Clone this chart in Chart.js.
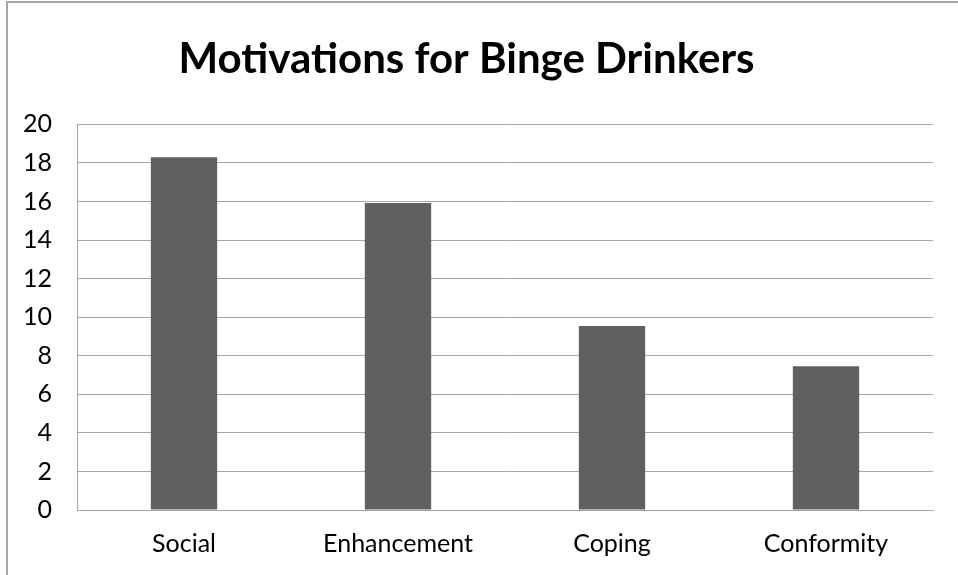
<!DOCTYPE html>
<html lang="en">

<head>
  <meta charset="UTF-8" />
  <title>Motivations for Binge Drinkers</title>
  <script src="https://cdn.jsdelivr.net/npm/chart.js"></script>
  <style>
    html, body {
      margin: 0;
      padding: 0;
      background: #fff;
    }

    .frame {
      position: absolute;
      left: 6px;
      top: 1px;
      width: 1000px;
      height: 600px;
      border-left: 2px solid #a6a6a6;
      border-top: 2px solid #a6a6a6;
    }

    .wrap {
      position: absolute;
      left: 0;
      top: 0;
      width: 958px;
      height: 575px;
    }
  </style>
</head>

<body>
  <div class="frame"></div>
  <div class="wrap"><canvas id="motivChart"></canvas></div>

  <script>
    // Motives and mean scores
    const motives = ["Social", "Enhancement", "Coping", "Conformity"];
    const scores = [18.3, 15.92, 9.55, 7.45];
    const yTicks = [0, 2, 4, 6, 8, 10, 12, 14, 16, 18, 20];

    const gridColor = "#a6a6a6";

    const ctx = document.getElementById("motivChart").getContext("2d");
    new Chart(ctx, {
      type: "bar",
      data: {
        labels: motives,
        datasets: [{
          label: "Score",
          data: scores,
          backgroundColor: "#606060",
          borderWidth: 0,
          categoryPercentage: 1,
          barPercentage: 0.31
        }]
      },
      options: {
        responsive: true,
        maintainAspectRatio: false,
        animation: false,
        layout: {
          padding: { top: 34, right: 25, bottom: 0, left: 0 }
        },
        plugins: {
          legend: { display: false },
          tooltip: { enabled: false },
          title: {
            display: true,
            text: "Motivations for Binge Drinkers",
            color: "#000",
            font: { family: "Lato", size: 42, weight: "bold" },
            padding: { top: 0, bottom: 40 }
          }
        },
        scales: {
          x: {
            afterFit: s => { s.height = 65; },
            grid: { display: false, drawTicks: false },
            border: { color: gridColor, width: 1 },
            ticks: {
              color: "#000",
              padding: 19,
              font: { family: "Lato", size: 25 }
            }
          },
          y: {
            min: 0,
            max: 20,
            afterBuildTicks: s => { s.ticks = yTicks.map(v => ({ value: v })); },
            afterFit: s => { s.width = 77; },
            grid: { color: gridColor, lineWidth: 1, drawTicks: false },
            border: { color: gridColor, width: 1 },
            ticks: {
              color: "#000",
              padding: 25,
              font: { family: "Lato", size: 25 }
            }
          }
        }
      }
    });
  </script>
</body>

</html>
